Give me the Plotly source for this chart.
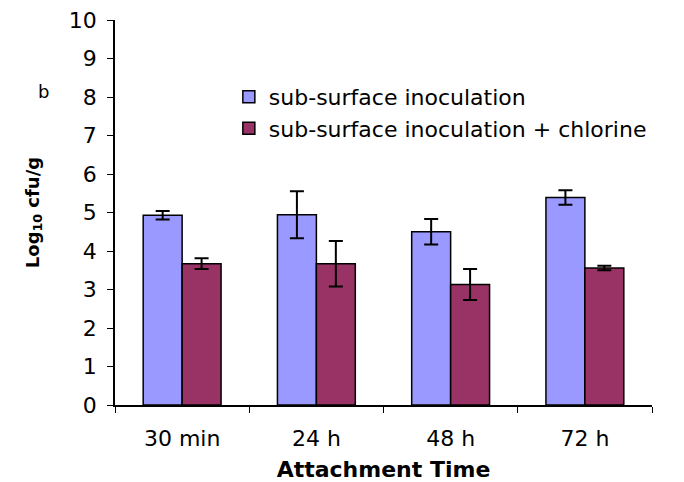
import plotly.graph_objects as go

categories = ["30 min", "24 h", "48 h", "72 h"]
sub_surface = [4.93, 4.94, 4.50, 5.39]
sub_surface_err = [0.11, 0.61, 0.33, 0.19]
sub_chlorine = [3.67, 3.67, 3.13, 3.56]
sub_chlorine_err = [0.14, 0.59, 0.40, 0.06]
series_names = ["sub-surface inoculation", "sub-surface inoculation + chlorine"]
y_ticks = list(range(0, 11))

font_family = "DejaVu Sans, Arial, sans-serif"

fig = go.Figure()
fig.add_trace(go.Bar(
    x=categories, y=sub_surface, name=series_names[0], legendgroup="a",
    marker=dict(color="#9999FF", line=dict(color="black", width=1.5)),
    error_y=dict(type="data", array=sub_surface_err, color="black", thickness=2, width=7),
))
fig.add_trace(go.Bar(
    x=categories, y=sub_chlorine, name=series_names[1], legendgroup="b",
    marker=dict(color="#993366", line=dict(color="black", width=1.5)),
    error_y=dict(type="data", array=sub_chlorine_err, color="black", thickness=2, width=7),
))

fig.update_layout(
    width=684, height=482,
    margin=dict(l=115, r=32, t=20, b=77),
    paper_bgcolor="white", plot_bgcolor="white",
    barmode="group", bargap=0.42, bargroupgap=0,
    font=dict(family=font_family, color="black", size=21),
    showlegend=True,
    legend=dict(
        x=0.212, y=0.855, xanchor="left", yanchor="top",
        font=dict(size=22), bgcolor="rgba(0,0,0,0)",
        tracegroupgap=9, traceorder="normal",
    ),
    xaxis=dict(
        type="category", showline=True, linecolor="black", linewidth=1.5,
        ticks="outside", tickson="boundaries", ticklen=6, tickcolor="black",
        showgrid=False, tickfont=dict(size=22), ticklabelstandoff=13,
        automargin=False,
        title=dict(text="<b>Attachment Time</b>", font=dict(size=22), standoff=12),
    ),
    yaxis=dict(
        range=[0, 10], tickvals=y_ticks, showline=True, linecolor="black", linewidth=1.5,
        ticks="outside", ticklen=6, tickcolor="black", showgrid=False,
        tickfont=dict(size=22), zeroline=False, ticklabelstandoff=6,
        automargin=False,
        title=dict(text="<b>Log<sub>10</sub> cfu/g</b>", font=dict(size=18), standoff=25),
    ),
    annotations=[dict(
        text="b", xref="paper", yref="paper", x=-0.148, y=0.815,
        xanchor="left", yanchor="middle",
        showarrow=False, font=dict(size=18, family="DejaVu Sans"),
    )],
)

fig.write_html("out.html")
